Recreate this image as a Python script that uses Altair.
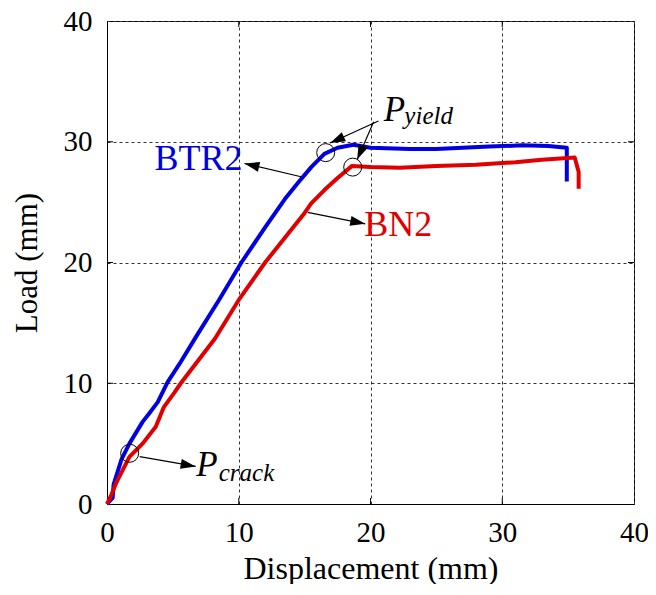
import math
import altair as alt
import pandas as pd

# ---- data ----
btr2_x = [0, 0.43, 0.5, 1.1, 1.7, 2.7, 3.2, 3.85, 4.6, 5.5, 6.73, 8.5, 10.2, 12.0, 13.5, 14.5, 15.5, 16.5, 17.5, 18.7, 20.0, 23.0, 25.0, 27.0, 29.0, 31.5, 33.5, 34.9, 34.9]
btr2_y = [0, 0.5, 1.6, 3.7, 5.0, 6.8, 7.5, 8.44, 10.1, 11.6, 13.8, 16.9, 20.0, 22.9, 25.25, 26.6, 27.9, 29.0, 29.5, 29.75, 29.5, 29.4, 29.4, 29.5, 29.6, 29.7, 29.65, 29.5, 26.7]

bn2_x = [0, 0.35, 0.7, 1.7, 2.7, 3.7, 4.3, 4.7, 5.1, 5.6, 8.2, 10.0, 12.0, 13.5, 15.0, 15.5, 16.5, 17.5, 18.6, 20.0, 22.2, 25.0, 28.0, 31.0, 33.0, 35.5, 35.8, 35.8]
bn2_y = [0, 0.8, 1.75, 3.9, 5.0, 6.4, 8.0, 8.6, 9.2, 10.0, 13.7, 16.9, 20.0, 22.05, 24.1, 24.9, 26.0, 27.0, 28.0, 27.9, 27.85, 28.0, 28.1, 28.3, 28.5, 28.7, 27.5, 26.1]

tick_vals = [10, 20, 30]
axis_vals = [0, 10, 20, 30, 40]

# annotation markers (data coordinates)
circle_x = [1.72, 16.6, 18.65]
circle_y = [4.2, 29.1, 27.9]

arrow_x0 = [2.48, 20.6, 20.24, 14.73, 15.23]
arrow_y0 = [3.93, 31.72, 31.66, 27.1, 24.15]
arrow_x1 = [6.73, 16.94, 18.99, 10.43, 19.6]
arrow_y1 = [3.11, 29.9, 28.52, 28.2, 23.2]

series_labels = ["BTR2", "BN2"]
series_colors = ["#0000E0", "#E00000"]
label_x = [3.6, 19.53]
label_y = [27.62, 22.16]

p_x = [21.0, 6.78]
p_y = [31.75, 2.3]
sub_text = ["yield", "crack"]
sub_x = [22.57, 8.48]
sub_y = [31.48, 1.89]

W, H = 527, 483
FONT = "Liberation Serif"

rows = []
for i, (x, y) in enumerate(zip(btr2_x, btr2_y)):
    rows.append({"s": "BTR2", "x": x, "y": y, "i": i})
for i, (x, y) in enumerate(zip(bn2_x, bn2_y)):
    rows.append({"s": "BN2", "x": x, "y": y, "i": i})
curves = pd.DataFrame(rows)

xs = alt.Scale(domain=[0, 40], nice=False, zero=False)
ys = alt.Scale(domain=[0, 40], nice=False, zero=False)

base_x_axis = alt.Axis(values=axis_vals, format="d", title="Displacement (mm)",
                       grid=True, ticks=False, tickSize=0, labelPadding=14, labelFlush=False,
                       titleBaseline="alphabetic", titleY=74, titleFontSize=32)
base_y_axis = alt.Axis(values=axis_vals, format="d", title="Load (mm)",
                       grid=True, ticks=False, tickSize=0, labelPadding=15, labelFlush=False,
                       titleAngle=270, titleX=-71, titleY=H / 2, titleFontSize=31,
                       titleBaseline="alphabetic", titleAlign="center")

lines = alt.Chart(curves).mark_line(strokeWidth=4, strokeJoin="round").encode(
    x=alt.X("x:Q", scale=xs, axis=base_x_axis),
    y=alt.Y("y:Q", scale=ys, axis=base_y_axis),
    color=alt.Color("s:N", scale=alt.Scale(domain=series_labels, range=series_colors), legend=None),
    detail="s:N",
    order=alt.Order("i:Q"),
)

ticks_df = pd.DataFrame({"v": tick_vals})
tb = alt.Chart(ticks_df).mark_rule(color="black", strokeWidth=1).encode(
    x=alt.X("v:Q", scale=xs), y=alt.value(H), y2=alt.value(H - 6))
tt = alt.Chart(ticks_df).mark_rule(color="black", strokeWidth=1).encode(
    x=alt.X("v:Q", scale=xs), y=alt.value(0), y2=alt.value(6))
tl = alt.Chart(ticks_df).mark_rule(color="black", strokeWidth=1).encode(
    y=alt.Y("v:Q", scale=ys), x=alt.value(0), x2=alt.value(6))
tr = alt.Chart(ticks_df).mark_rule(color="black", strokeWidth=1).encode(
    y=alt.Y("v:Q", scale=ys), x=alt.value(W), x2=alt.value(W - 6))

circ = alt.Chart(pd.DataFrame({"x": circle_x, "y": circle_y})).mark_point(
    shape="circle", filled=False, size=324, color="black", strokeWidth=1, opacity=1
).encode(x=alt.X("x:Q", scale=xs), y=alt.Y("y:Q", scale=ys))

angs = []
for x0, y0, x1, y1 in zip(arrow_x0, arrow_y0, arrow_x1, arrow_y1):
    dx = (x1 - x0) * W / 40
    dy = -(y1 - y0) * H / 40
    angs.append(math.degrees(math.atan2(dx, -dy)) % 360)
arr_df = pd.DataFrame({"x0": arrow_x0, "y0": arrow_y0, "x1": arrow_x1, "y1": arrow_y1, "ang": angs})

arr_lines = alt.Chart(arr_df).mark_rule(color="black", strokeWidth=1.2).encode(
    x=alt.X("x0:Q", scale=xs), y=alt.Y("y0:Q", scale=ys),
    x2="x1:Q", y2="y1:Q")
arr_heads = alt.Chart(arr_df).mark_point(
    shape="M0,0L-1,3L1,3Z", filled=True, size=100, color="black", opacity=1, strokeWidth=0
).encode(x=alt.X("x1:Q", scale=xs), y=alt.Y("y1:Q", scale=ys),
         angle=alt.Angle("ang:Q", scale=None))

lab = alt.Chart(pd.DataFrame({"t": series_labels, "x": label_x, "y": label_y, "c": series_colors})).mark_text(
    font=FONT, fontSize=36, align="left", baseline="alphabetic"
).encode(x=alt.X("x:Q", scale=xs), y=alt.Y("y:Q", scale=ys), text="t:N",
         color=alt.Color("c:N", scale=None))

pt = alt.Chart(pd.DataFrame({"t": ["P", "P"], "x": p_x, "y": p_y})).mark_text(
    font=FONT, fontSize=35, fontStyle="italic", align="left", baseline="alphabetic", color="black"
).encode(x=alt.X("x:Q", scale=xs), y=alt.Y("y:Q", scale=ys), text="t:N")

st = alt.Chart(pd.DataFrame({"t": sub_text, "x": sub_x, "y": sub_y})).mark_text(
    font=FONT, fontSize=25, fontStyle="italic", align="left", baseline="alphabetic", color="black"
).encode(x=alt.X("x:Q", scale=xs), y=alt.Y("y:Q", scale=ys), text="t:N")

chart = alt.layer(lines, tb, tt, tl, tr, arr_lines, arr_heads, circ, lab, pt, st).properties(
    width=W, height=H,
    background="white",
    padding={"left": 99, "top": 13, "right": 14, "bottom": 80},
    autosize=alt.AutoSizeParams(type="none"),
).configure_view(stroke="black", strokeWidth=1).configure_axis(
    labelFont=FONT, labelFontSize=29, labelColor="black",
    titleFont=FONT, titleFontWeight="normal", titleColor="black",
    domainColor="black", domainWidth=1,
    gridColor="#333333", gridDash=[3, 3], gridWidth=1, gridOpacity=1,
)

chart.save("out.html", embed_options={"renderer": "svg", "actions": False})
